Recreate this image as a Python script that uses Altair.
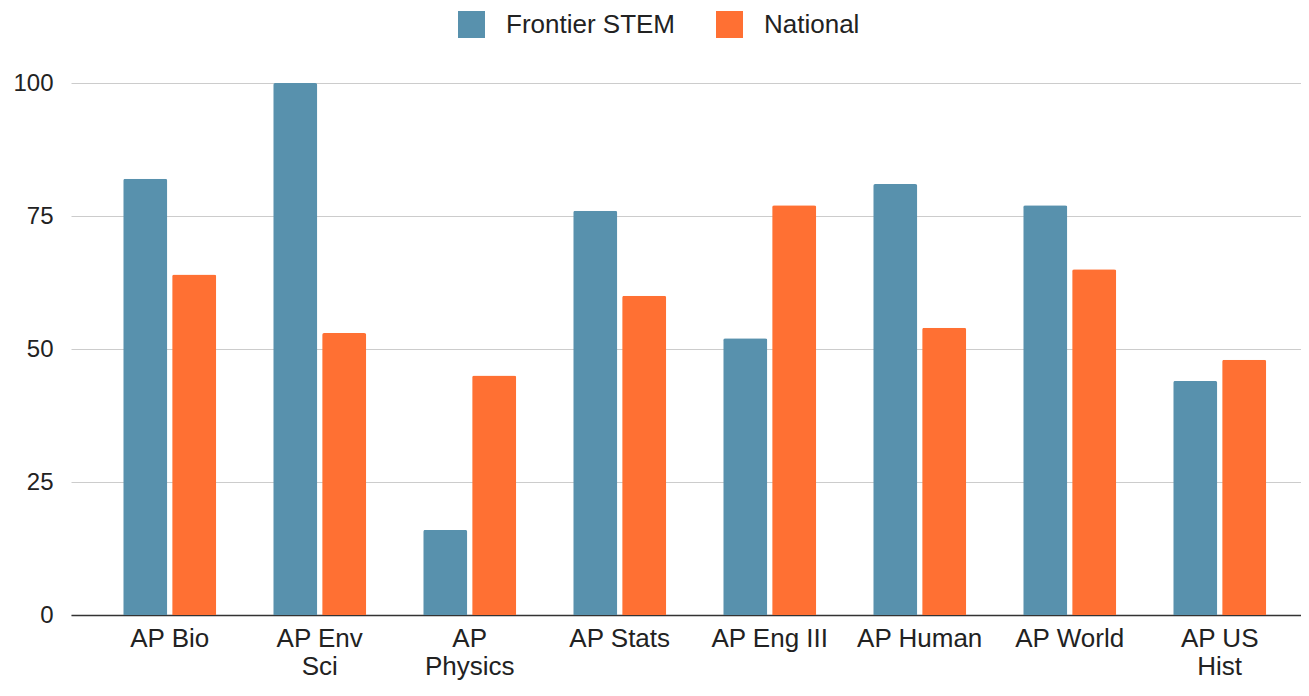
import altair as alt
import pandas as pd

courses = ["AP Bio", "AP Env|Sci", "AP|Physics", "AP Stats", "AP Eng III", "AP Human", "AP World", "AP US|Hist"]
series_names = ["Frontier STEM", "National"]
frontier = [82, 100, 16, 76, 52, 81, 77, 44]
national = [64, 53, 45, 60, 77, 54, 65, 48]
colors = ["#5891ad", "#ff7033"]

rows = []
for c, f, n in zip(courses, frontier, national):
    rows.append({"course": c, "series": series_names[0], "value": f})
    rows.append({"course": c, "series": series_names[1], "value": n})
df = pd.DataFrame(rows)

FONT = "Liberation Sans"

chart = alt.Chart(df).mark_bar(cornerRadiusTopLeft=2, cornerRadiusTopRight=2).encode(
    x=alt.X("course:N", sort=courses,
            scale=alt.Scale(paddingInner=0.38, paddingOuter=0.29, align=0.6),
            axis=alt.Axis(title=None, labelAngle=0, labelExpr="split(datum.label, '|')",
                          labelFontSize=26, labelColor="#222", labelFont=FONT,
                          labelPadding=10, labelLineHeight=28, ticks=False,
                          domainColor="#333", domainWidth=1.5, grid=False)),
    xOffset=alt.XOffset("series:N", sort=series_names,
                        scale=alt.Scale(paddingInner=0.1, paddingOuter=0)),
    y=alt.Y("value:Q", scale=alt.Scale(domain=[0, 100], nice=False),
            axis=alt.Axis(title=None, values=[0, 25, 50, 75, 100], domain=False, ticks=False,
                          labelFontSize=24, labelColor="#222", labelFont=FONT, labelPadding=18,
                          gridColor="#cccccc", gridWidth=1)),
    color=alt.Color("series:N", sort=series_names,
                    scale=alt.Scale(domain=series_names, range=colors),
                    legend=alt.Legend(title=None, orient="none", legendX=387, legendY=-72,
                                      direction="horizontal", symbolType="square",
                                      symbolSize=729, symbolStrokeWidth=0, symbolOpacity=1,
                                      labelFontSize=26, labelColor="#222", labelFont=FONT,
                                      labelOffset=21, columnPadding=40, labelLimit=400)),
).properties(
    width=1230, height=532,
    autosize=alt.AutoSizeParams(type="none"),
    padding={"left": 63, "top": 75, "right": 0, "bottom": 73},
).configure_view(stroke=None)

chart.save("out.html", embed_options={"renderer": "svg", "actions": False})
